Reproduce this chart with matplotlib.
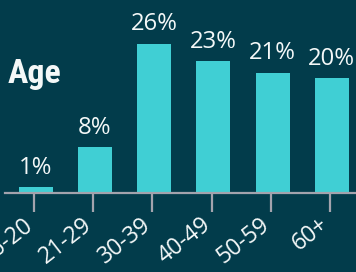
import matplotlib
matplotlib.use("Agg")
import matplotlib.pyplot as plt

categories = ["16-20", "21-29", "30-39", "40-49", "50-59", "60+"]
values = [1, 8, 26, 23, 21, 20]
value_labels = ["1%", "8%", "26%", "23%", "21%", "20%"]
title = "Age"

BG = "#023c4b"
BAR = "#40cfd4"
TXT = "#f4f8f8"
AX = "#a3a3ad"

W, H = 356, 272
fig = plt.figure(figsize=(W / 100, H / 100), dpi=100, facecolor=BG)
ax = fig.add_axes([5 / W, 79 / H, 1 - 5 / W, 1 - 79 / H])
ax.set_facecolor(BG)

x = list(range(len(categories)))
ax.bar([i + 0.03 for i in x], values, width=0.575, color=BAR, zorder=2)
ax.set_xlim(-0.49, 5.44)
ax.set_ylim(0, 33.7)

for i, (v, lab) in enumerate(zip(values, value_labels)):
    ax.annotate(lab, (i + 0.03, v), xytext=(0, 5.5), textcoords="offset points",
                ha="center", va="bottom", color=TXT, fontsize=17.2,
                family="Open Sans")

for s in ["top", "right", "left"]:
    ax.spines[s].set_visible(False)
ax.spines["bottom"].set_color(AX)
ax.spines["bottom"].set_linewidth(1.6)
ax.set_yticks([])
ax.set_xticks(x)
ax.set_xticklabels(categories, rotation=38, ha="right", va="baseline",
                   rotation_mode="anchor", color=TXT, fontsize=16.6,
                   family="Open Sans")
ax.tick_params(axis="x", length=14, width=1.6, color=AX, pad=10.5)

fig.text(8 / W, 1 - 83 / H, title, color=TXT, fontsize=24.5,
         fontweight="bold",
         family=["Roboto Condensed", "Liberation Sans Narrow", "Roboto"],
         ha="left", va="baseline")

fig.savefig("out.png", dpi=100, facecolor=BG)
